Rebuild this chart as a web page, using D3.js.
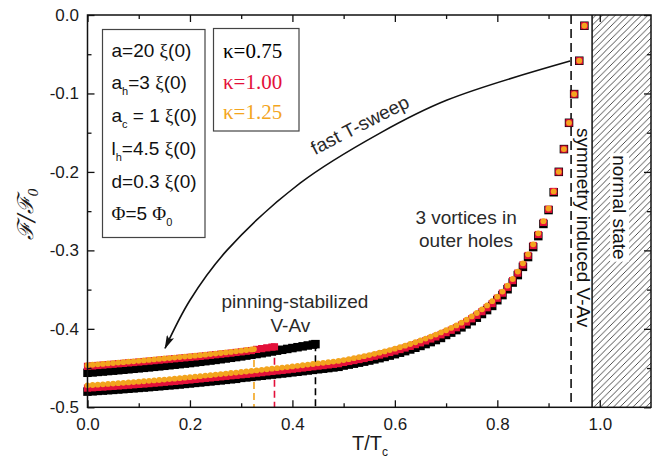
<!DOCTYPE html>
<html>
<head>
<meta charset="utf-8">
<script src="https://cdn.jsdelivr.net/npm/d3@7"></script>
<style>
  body { margin: 0; background: #fff; }
  svg { display: block; font-family: "Liberation Sans", Arial, sans-serif; }
</style>
</head>
<body>
<script>
// temperatures (T/Tc) of the equilibrium branch
var tLower = [0.00,0.01,0.02,0.03,0.04,0.05,0.06,0.07,0.08,0.09,
  0.10,0.11,0.12,0.13,0.14,0.15,0.16,0.17,0.18,0.19,
  0.20,0.21,0.22,0.23,0.24,0.25,0.26,0.27,0.28,0.29,
  0.30,0.31,0.32,0.33,0.34,0.35,0.36,0.37,0.38,0.39,
  0.40,0.41,0.42,0.43,0.44,0.45,0.46,0.47,0.48,0.49,
  0.50,0.51,0.52,0.53,0.54,0.55,0.56,0.57,0.58,0.59,
  0.60,0.61,0.62,0.63,0.64,0.65,0.66,0.67,0.68,0.69,
  0.70,0.71,0.72,0.73,0.74,0.75,0.76,0.77,0.78,0.79,
  0.80,0.81,0.82,0.83,0.84,0.85,0.86,0.87,0.88,0.89,
  0.90,0.91,0.92,0.93,0.94,0.95,0.96,0.97];

// free energy, lower branch, kappa = 0.75 / 1.00 / 1.25
var fLower075 = [-0.4800,-0.4796,-0.4791,-0.4787,-0.4782,-0.4778,-0.4773,-0.4768,-0.4763,-0.4758,
  -0.4753,-0.4748,-0.4743,-0.4737,-0.4732,-0.4726,-0.4720,-0.4715,-0.4709,-0.4702,
  -0.4696,-0.4689,-0.4683,-0.4676,-0.4670,-0.4663,-0.4657,-0.4650,-0.4643,-0.4637,
  -0.4625,-0.4619,-0.4612,-0.4605,-0.4598,-0.4590,-0.4583,-0.4576,-0.4569,-0.4562,
  -0.4554,-0.4547,-0.4539,-0.4531,-0.4523,-0.4515,-0.4508,-0.4500,-0.4492,-0.4484,
  -0.4468,-0.4456,-0.4444,-0.4431,-0.4418,-0.4404,-0.4389,-0.4374,-0.4358,-0.4341,
  -0.4323,-0.4304,-0.4284,-0.4263,-0.4241,-0.4218,-0.4194,-0.4169,-0.4143,-0.4116,
  -0.4078,-0.4048,-0.4016,-0.3981,-0.3943,-0.3902,-0.3858,-0.3811,-0.3761,-0.3708,
  -0.3635,-0.3570,-0.3495,-0.3410,-0.3315,-0.3210,-0.3085,-0.2958,-0.2818,-0.2663,
  -0.2486,-0.2259,-0.1999,-0.1709,-0.1374,-0.1008,-0.0583,-0.0137];

var fLower100 = [-0.4755,-0.4751,-0.4746,-0.4742,-0.4737,-0.4733,-0.4728,-0.4723,-0.4718,-0.4713,
  -0.4708,-0.4703,-0.4698,-0.4692,-0.4687,-0.4681,-0.4675,-0.4670,-0.4664,-0.4657,
  -0.4651,-0.4644,-0.4638,-0.4631,-0.4625,-0.4618,-0.4612,-0.4605,-0.4598,-0.4592,
  -0.4585,-0.4579,-0.4572,-0.4565,-0.4558,-0.4550,-0.4543,-0.4536,-0.4529,-0.4522,
  -0.4514,-0.4507,-0.4499,-0.4491,-0.4483,-0.4475,-0.4468,-0.4460,-0.4452,-0.4444,
  -0.4428,-0.4416,-0.4404,-0.4391,-0.4378,-0.4364,-0.4349,-0.4334,-0.4318,-0.4301,
  -0.4283,-0.4264,-0.4244,-0.4223,-0.4201,-0.4178,-0.4154,-0.4129,-0.4103,-0.4076,
  -0.4048,-0.4018,-0.3986,-0.3951,-0.3913,-0.3872,-0.3828,-0.3781,-0.3731,-0.3678,
  -0.3610,-0.3545,-0.3470,-0.3385,-0.3290,-0.3185,-0.3065,-0.2938,-0.2798,-0.2643,
  -0.2476,-0.2249,-0.1999,-0.1709,-0.1374,-0.1008,-0.0583,-0.0137];

var fLower125 = [-0.4720,-0.4716,-0.4711,-0.4707,-0.4702,-0.4698,-0.4693,-0.4688,-0.4683,-0.4678,
  -0.4673,-0.4668,-0.4663,-0.4657,-0.4652,-0.4646,-0.4640,-0.4635,-0.4629,-0.4622,
  -0.4616,-0.4609,-0.4603,-0.4596,-0.4590,-0.4583,-0.4577,-0.4570,-0.4563,-0.4557,
  -0.4550,-0.4544,-0.4537,-0.4530,-0.4523,-0.4515,-0.4508,-0.4501,-0.4494,-0.4487,
  -0.4479,-0.4472,-0.4464,-0.4456,-0.4448,-0.4440,-0.4433,-0.4425,-0.4417,-0.4409,
  -0.4398,-0.4386,-0.4374,-0.4361,-0.4348,-0.4334,-0.4319,-0.4304,-0.4288,-0.4271,
  -0.4253,-0.4234,-0.4214,-0.4193,-0.4171,-0.4148,-0.4124,-0.4099,-0.4073,-0.4046,
  -0.4018,-0.3988,-0.3956,-0.3921,-0.3883,-0.3842,-0.3798,-0.3751,-0.3701,-0.3648,
  -0.3590,-0.3525,-0.3450,-0.3365,-0.3270,-0.3165,-0.3050,-0.2923,-0.2783,-0.2628,
  -0.2466,-0.2249,-0.1999,-0.1709,-0.1374,-0.1008,-0.0583,-0.0137];

// metastable (pinning-stabilized V-Av) branch, ends at the transition temperature
var tUpper075 = [0.00,0.01,0.02,0.03,0.04,0.05,0.06,0.07,0.08,0.09,
  0.10,0.11,0.12,0.13,0.14,0.15,0.16,0.17,0.18,0.19,
  0.20,0.21,0.22,0.23,0.24,0.25,0.26,0.27,0.28,0.29,
  0.30,0.31,0.32,0.33,0.34,0.35,0.36,0.37,0.38,0.39,
  0.40,0.41,0.42,0.43,0.44,0.445];
var fUpper075 = [-0.4560,-0.4555,-0.4549,-0.4544,-0.4538,-0.4533,-0.4527,-0.4521,-0.4515,-0.4509,
  -0.4503,-0.4497,-0.4491,-0.4484,-0.4478,-0.4471,-0.4464,-0.4457,-0.4450,-0.4443,
  -0.4436,-0.4428,-0.4420,-0.4412,-0.4404,-0.4396,-0.4387,-0.4378,-0.4369,-0.4360,
  -0.4351,-0.4341,-0.4331,-0.4321,-0.4311,-0.4300,-0.4289,-0.4278,-0.4267,-0.4256,
  -0.4245,-0.4234,-0.4223,-0.4212,-0.4201,-0.4195];

var tUpper100 = [0.00,0.01,0.02,0.03,0.04,0.05,0.06,0.07,0.08,0.09,
  0.10,0.11,0.12,0.13,0.14,0.15,0.16,0.17,0.18,0.19,
  0.20,0.21,0.22,0.23,0.24,0.25,0.26,0.27,0.28,0.29,
  0.30,0.31,0.32,0.33,0.34,0.35,0.36,0.365];
var fUpper100 = [-0.4478,-0.4473,-0.4467,-0.4462,-0.4456,-0.4451,-0.4445,-0.4440,-0.4434,-0.4429,
  -0.4423,-0.4417,-0.4411,-0.4405,-0.4399,-0.4393,-0.4387,-0.4381,-0.4375,-0.4369,
  -0.4363,-0.4357,-0.4351,-0.4344,-0.4337,-0.4330,-0.4323,-0.4316,-0.4309,-0.4301,
  -0.4293,-0.4285,-0.4277,-0.4262,-0.4252,-0.4242,-0.4233,-0.4229];

var tUpper125 = [0.00,0.01,0.02,0.03,0.04,0.05,0.06,0.07,0.08,0.09,
  0.10,0.11,0.12,0.13,0.14,0.15,0.16,0.17,0.18,0.19,
  0.20,0.21,0.22,0.23,0.24,0.25,0.26,0.27,0.28,0.29,
  0.30,0.31,0.32,0.325];
var fUpper125 = [-0.4463,-0.4458,-0.4452,-0.4447,-0.4441,-0.4436,-0.4430,-0.4425,-0.4419,-0.4414,
  -0.4408,-0.4402,-0.4396,-0.4390,-0.4384,-0.4378,-0.4372,-0.4366,-0.4360,-0.4354,
  -0.4348,-0.4342,-0.4336,-0.4329,-0.4322,-0.4315,-0.4308,-0.4301,-0.4294,-0.4286,
  -0.4278,-0.4270,-0.4262,-0.4258];

// "fast T-sweep" arrow, in data units
var sweepT = [0.942, 0.702, 0.571, 0.415, 0.2725, 0.200, 0.1514];
var sweepF = [-0.0587, -0.1084, -0.1505, -0.2143, -0.2997, -0.3635, -0.4247];

var symmetryT = 0.944;   // symmetry induced V-Av
var normalT = 0.985;     // start of normal state

// ticks
var xMajor = [0, 0.2, 0.4, 0.6, 0.8, 1.0];
var xTickLabels = ["0.0", "0.2", "0.4", "0.6", "0.8", "1.0"];
var xMinor = [0.1, 0.3, 0.5, 0.7, 0.9];
var yMajor = [0, -0.1, -0.2, -0.3, -0.4, -0.5];
var yTickLabels = ["0.0", "-0.1", "-0.2", "-0.3", "-0.4", "-0.5"];
var yMinor = [-0.05, -0.15, -0.25, -0.35, -0.45];

var kappaLabels = ["\u03ba=0.75", "\u03ba=1.00", "\u03ba=1.25"];
var kappaColors = ["#000000", "#e3103a", "#f3a51e"];

var paramLines = [
  [["a=20 ", "n"], ["\u03be", "g"], ["(0)", "n"]],
  [["a", "n"], ["h", "s"], ["=3 ", "n"], ["\u03be", "g"], ["(0)", "n"]],
  [["a", "n"], ["c", "s"], [" = 1 ", "n"], ["\u03be", "g"], ["(0)", "n"]],
  [["l", "n"], ["h", "s"], ["=4.5 ", "n"], ["\u03be", "g"], ["(0)", "n"]],
  [["d=0.3 ", "n"], ["\u03be", "g"], ["(0)", "n"]],
  [["\u03a6", "g"], ["=5 ", "n"], ["\u03a6", "g"], ["0", "s"]]
];

var width = 666, height = 468;
var svg = d3.select("body").append("svg")
  .attr("width", width)
  .attr("height", height);

var x = d3.scaleLinear().domain([0, 1.1]).range([87.5, 651]);
var y = d3.scaleLinear().domain([-0.5, 0]).range([407.3, 15]);

var defs = svg.append("defs");
defs.append("pattern")
  .attr("id", "hatch")
  .attr("patternUnits", "userSpaceOnUse")
  .attr("width", 6.5).attr("height", 6.5)
  .append("path")
  .attr("d", "M-1,1 L1,-1 M0,6.5 L6.5,0 M5.5,7.5 L7.5,5.5")
  .attr("stroke", "#222").attr("stroke-width", 0.8);

defs.append("marker")
  .attr("id", "arrowhead")
  .attr("viewBox", "0 0 14 8")
  .attr("refX", 13).attr("refY", 4)
  .attr("markerWidth", 14).attr("markerHeight", 8)
  .attr("markerUnits", "userSpaceOnUse")
  .attr("orient", "auto")
  .append("path")
  .attr("d", "M0,0 L14,4 L0,8 L3,4 Z")
  .attr("fill", "#111");

// normal state region
svg.append("rect")
  .attr("x", x(normalT)).attr("y", y(0))
  .attr("width", x(1.1) - x(normalT)).attr("height", y(-0.5) - y(0))
  .attr("fill", "url(#hatch)");
svg.append("line")
  .attr("x1", x(normalT)).attr("x2", x(normalT))
  .attr("y1", y(0)).attr("y2", y(-0.5))
  .attr("stroke", "#111").attr("stroke-width", 1.5);

// symmetry induced V-Av boundary
svg.append("line")
  .attr("x1", x(symmetryT)).attr("x2", x(symmetryT))
  .attr("y1", y(0)).attr("y2", y(-0.5))
  .attr("stroke", "#111").attr("stroke-width", 1.6)
  .attr("stroke-dasharray", "9,5");

// sweep arrow
var sweepLine = d3.line()
  .x(function(d) { return x(d[0]); })
  .y(function(d) { return y(d[1]); })
  .curve(d3.curveCatmullRom);
svg.append("path")
  .attr("d", sweepLine(sweepT.map(function(t, i) { return [t, sweepF[i]]; })))
  .attr("fill", "none")
  .attr("stroke", "#111").attr("stroke-width", 1.6)
  .attr("marker-end", "url(#arrowhead)");

var series = [
  {color: kappaColors[0], lower: [tLower, fLower075], upper: [tUpper075, fUpper075]},
  {color: kappaColors[1], lower: [tLower, fLower100], upper: [tUpper100, fUpper100]},
  {color: kappaColors[2], lower: [tLower, fLower125], upper: [tUpper125, fUpper125]}
];

function toPoints(pair) {
  return pair[0].map(function(t, i) { return {t: t, f: pair[1][i]}; });
}

// dashed drops at the end of each metastable branch
series.forEach(function(s) {
  var tEnd = s.upper[0][s.upper[0].length - 1];
  var fEnd = s.upper[1][s.upper[1].length - 1];
  svg.append("line")
    .attr("x1", x(tEnd)).attr("x2", x(tEnd))
    .attr("y1", y(fEnd)).attr("y2", y(-0.5))
    .attr("stroke", s.color).attr("stroke-width", 1.6)
    .attr("stroke-dasharray", "7,4");
});

// markers: black squares, red squares, orange circles
var markerSizes = [8.5, 7.2];
series.forEach(function(s, k) {
  var pts = toPoints(s.lower).concat(toPoints(s.upper));
  var g = svg.append("g");
  if (k < 2) {
    var size = markerSizes[k];
    g.selectAll("rect").data(pts).enter().append("rect")
      .attr("x", function(d) { return x(d.t) - size / 2; })
      .attr("y", function(d) { return y(d.f) - size / 2; })
      .attr("width", size).attr("height", size)
      .attr("fill", s.color);
  } else {
    g.selectAll("circle").data(pts).enter().append("circle")
      .attr("cx", function(d) { return x(d.t); })
      .attr("cy", function(d) { return y(d.f); })
      .attr("r", 2.9)
      .attr("fill", s.color);
  }
});

// parameter box
svg.append("rect")
  .attr("x", 102.5).attr("y", 29.5).attr("width", 102.5).attr("height", 208)
  .attr("fill", "#fff").attr("stroke", "#444").attr("stroke-width", 1.2);
paramLines.forEach(function(line, i) {
  var txt = svg.append("text")
    .attr("x", 111.5).attr("y", 56.7 + i * 32.7)
    .attr("font-size", 19).attr("fill", "#111");
  var shifted = false;
  line.forEach(function(seg) {
    var ts = txt.append("tspan").text(seg[0]);
    if (seg[1] === "g") ts.attr("font-family", "'Liberation Serif', serif").attr("font-size", 19);
    if (seg[1] === "s") {
      ts.attr("font-size", 11).attr("dy", 6);
      shifted = true;
    } else if (shifted) {
      ts.attr("dy", -6);
      shifted = false;
    }
  });
});

// kappa legend
svg.append("rect")
  .attr("x", 213.5).attr("y", 28.5).attr("width", 85.5).attr("height", 102.5)
  .attr("fill", "#fff").attr("stroke", "#444").attr("stroke-width", 1.2);
kappaLabels.forEach(function(lbl, i) {
  svg.append("text")
    .attr("x", 223).attr("y", 58.3 + i * 30.5)
    .attr("font-family", "'Liberation Serif', serif")
    .attr("font-size", 21)
    .attr("fill", kappaColors[i])
    .text(lbl);
});

// annotations
var annoColor = "#2a2a2a";
svg.append("text")
  .attr("transform", "translate(" + x(0.444) + "," + y(-0.1786) + ") rotate(-27)")
  .attr("font-size", 19).attr("fill", annoColor)
  .text("fast T-sweep");

svg.append("text")
  .attr("x", x(0.739)).attr("y", y(-0.2666))
  .attr("text-anchor", "middle").attr("font-size", 19).attr("fill", annoColor)
  .text("3 vortices in");
svg.append("text")
  .attr("x", x(0.739)).attr("y", y(-0.2959))
  .attr("text-anchor", "middle").attr("font-size", 19).attr("fill", annoColor)
  .text("outer holes");

svg.append("text")
  .attr("x", x(0.405)).attr("y", y(-0.3734))
  .attr("text-anchor", "middle").attr("font-size", 19).attr("fill", annoColor)
  .text("pinning-stabilized");
svg.append("text")
  .attr("x", x(0.396)).attr("y", y(-0.404))
  .attr("text-anchor", "middle").attr("font-size", 19).attr("fill", annoColor)
  .text("V-Av");

svg.append("text")
  .attr("transform", "translate(" + (x(symmetryT) + 5.5) + "," + y(-0.1441) + ") rotate(90)")
  .attr("font-size", 19).attr("fill", "#111")
  .text("symmetry induced V-Av");

var normalText = svg.append("text")
  .attr("transform", "translate(" + (x(normalT) + 21) + "," + y(-0.1786) + ") rotate(90)")
  .attr("font-size", 19).attr("fill", "#111")
  .text("normal state");
var nb = normalText.node().getBBox();
svg.insert("rect", function() { return normalText.node(); })
  .attr("transform", normalText.attr("transform"))
  .attr("x", nb.x - 2).attr("y", nb.y + 1)
  .attr("width", nb.width + 4).attr("height", nb.height - 2)
  .attr("fill", "#fff");

// frame
svg.append("rect")
  .attr("x", x(0)).attr("y", y(0))
  .attr("width", x(1.1) - x(0)).attr("height", y(-0.5) - y(0))
  .attr("fill", "none").attr("stroke", "#111").attr("stroke-width", 1.5);

// axes, ticks pointing inward
function styleAxis(g) {
  g.select(".domain").remove();
  g.selectAll(".tick line").attr("stroke", "#111").attr("stroke-width", 1.3);
  g.selectAll("text").attr("font-family", "'Liberation Sans', Arial, sans-serif")
    .attr("font-size", 17).attr("fill", "#1a1a1a");
}

svg.append("g")
  .attr("transform", "translate(0," + y(-0.5) + ")")
  .call(d3.axisBottom(x).tickValues(xMajor).tickSize(-7).tickPadding(11)
    .tickFormat(function(d, i) { return xTickLabels[i]; }))
  .call(styleAxis);
svg.append("g")
  .attr("transform", "translate(0," + y(-0.5) + ")")
  .call(d3.axisBottom(x).tickValues(xMinor).tickSize(-4).tickFormat(""))
  .call(styleAxis);
svg.append("g")
  .attr("transform", "translate(0," + y(0) + ")")
  .call(d3.axisTop(x).tickValues(xMajor).tickSize(-7).tickFormat(""))
  .call(styleAxis);
svg.append("g")
  .attr("transform", "translate(0," + y(0) + ")")
  .call(d3.axisTop(x).tickValues(xMinor).tickSize(-4).tickFormat(""))
  .call(styleAxis);

svg.append("g")
  .attr("transform", "translate(" + x(0) + ",0)")
  .call(d3.axisLeft(y).tickValues(yMajor).tickSize(-7).tickPadding(8.5)
    .tickFormat(function(d, i) { return yTickLabels[i]; }))
  .call(styleAxis);
svg.append("g")
  .attr("transform", "translate(" + x(0) + ",0)")
  .call(d3.axisLeft(y).tickValues(yMinor).tickSize(-4).tickFormat(""))
  .call(styleAxis);
svg.append("g")
  .attr("transform", "translate(" + x(1.1) + ",0)")
  .call(d3.axisRight(y).tickValues(yMajor).tickSize(-7).tickFormat(""))
  .call(styleAxis);
svg.append("g")
  .attr("transform", "translate(" + x(1.1) + ",0)")
  .call(d3.axisRight(y).tickValues(yMinor).tickSize(-4).tickFormat(""))
  .call(styleAxis);

// axis titles
var xTitle = svg.append("text")
  .attr("x", 370).attr("y", 450)
  .attr("text-anchor", "middle")
  .attr("font-size", 20).attr("fill", "#1a1a1a");
xTitle.append("tspan").text("T/T");
xTitle.append("tspan").attr("font-size", 12).attr("dy", 6).text("c");

var yTitle = svg.append("text")
  .attr("transform", "translate(33,214) rotate(-90)")
  .attr("text-anchor", "middle")
  .attr("font-family", "'DejaVu Serif', serif")
  .attr("font-style", "italic")
  .attr("font-size", 22).attr("fill", "#1a1a1a");
yTitle.append("tspan").text("\u2131/\u2131");
yTitle.append("tspan").attr("font-size", 13).attr("dy", 5).text("0");
</script>
</body>
</html>
